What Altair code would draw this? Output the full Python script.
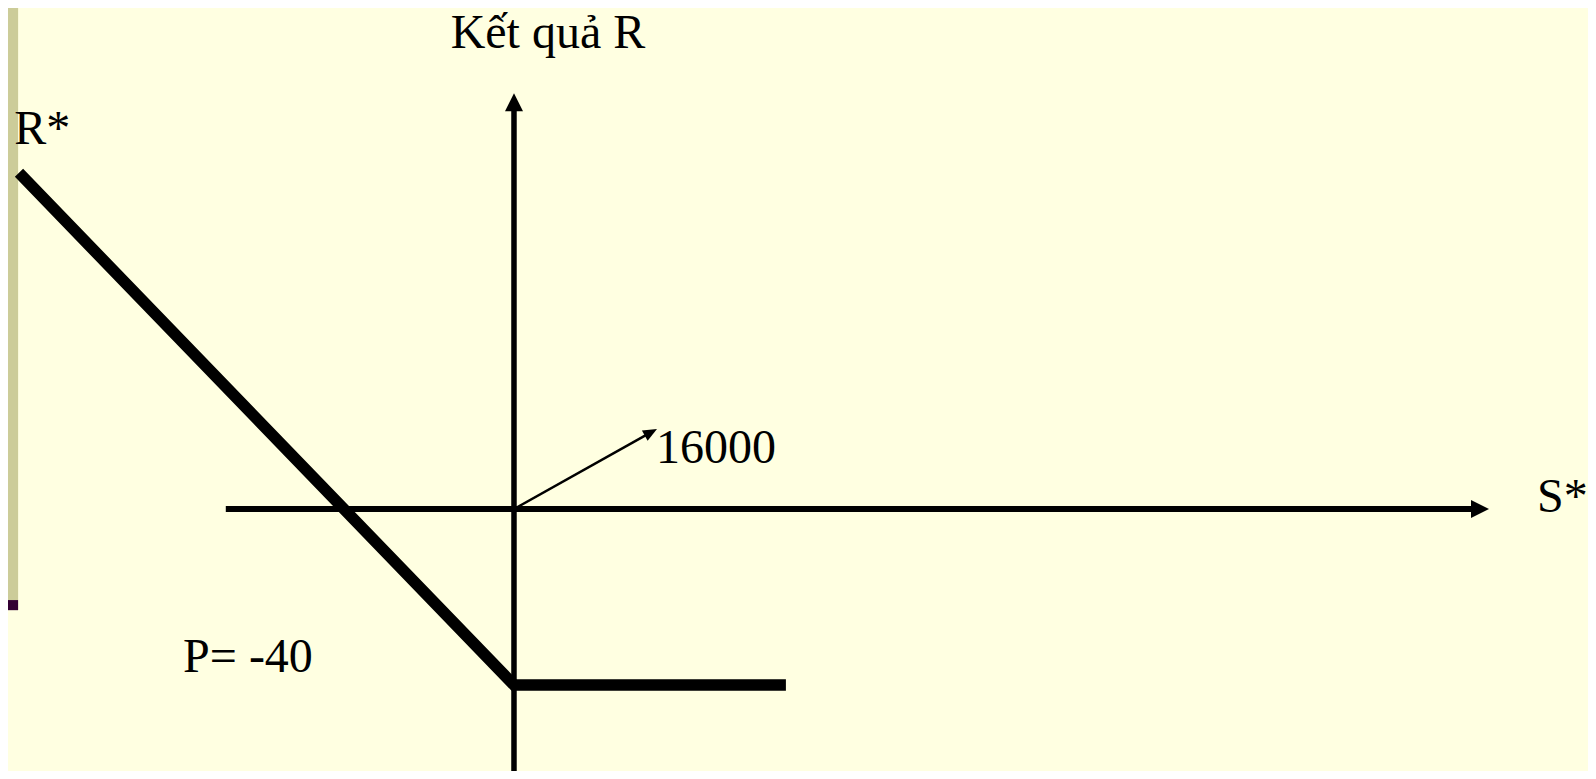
import math
import altair as alt
import pandas as pd

# ---- data (diagram units: origin at the axes crossing, P = -40 at the strike) ----
payoff_s = [-112.5, 0.0, 61.8]
payoff_r = [76.4, -40.0, -40.0]

s_axis_from = -65.5
s_axis_tip = 221.6
r_axis_from = -59.55
r_axis_tip = 94.5

strike_tip_s = 32.5
strike_tip_r = 18.2

label_text = ["Kết quả R", "R*", "16000", "S*", "P= -40"]
label_s = [-14.4, -113.6, 32.3, 232.5, -75.2]
label_r = [104.8, 82.95, 10.45, -0.7, -37.05]

band_s = [-115.0, -112.7]
band_r_top = 113.86
band_r_split = -20.7
band_r_bottom = -23.0

X_DOMAIN = [-115.0, 244.1]
Y_DOMAIN = [-59.55, 113.86]

BG = "#FFFFE1"
xs = alt.Scale(domain=X_DOMAIN, nice=False, zero=False, padding=0)
ys = alt.Scale(domain=Y_DOMAIN, nice=False, zero=False, padding=0)

def X(f):
    return alt.X(f, type="quantitative", scale=xs, axis=None)

def Y(f):
    return alt.Y(f, type="quantitative", scale=ys, axis=None)

# side band (olive + dark purple)
band_df = pd.DataFrame({
    "x": [band_s[0], band_s[0]], "x2": [band_s[1], band_s[1]],
    "y": [band_r_split, band_r_bottom], "y2": [band_r_top, band_r_split],
    "c": ["olive", "purple"],
})
band = alt.Chart(band_df).mark_rect().encode(
    x=X("x"), x2="x2", y=Y("y"), y2="y2",
    color=alt.Color("c:N", scale=alt.Scale(domain=["olive", "purple"],
                                            range=["#CCCC99", "#330033"]), legend=None),
)

# axes lines
h_axis_df = pd.DataFrame({"x": [s_axis_from], "x2": [s_axis_tip * 0.982], "y": [0.0]})
h_axis = alt.Chart(h_axis_df).mark_rule(strokeWidth=6, color="black", strokeCap="butt").encode(
    x=X("x"), x2="x2", y=Y("y"))
v_axis_df = pd.DataFrame({"y": [r_axis_from], "y2": [r_axis_tip * 0.965], "x": [0.0]})
v_axis = alt.Chart(v_axis_df).mark_rule(strokeWidth=5.5, color="black", strokeCap="butt").encode(
    y=Y("y"), y2="y2", x=X("x"))

HEAD = "M0,0 L-0.5,1 L0.5,1 Z"
h_head = alt.Chart(pd.DataFrame({"x": [s_axis_tip], "y": [0.0]})).mark_point(
    shape=HEAD, size=1296, filled=True, color="black", opacity=1, strokeWidth=0, angle=90
).encode(x=X("x"), y=Y("y"))
v_head = alt.Chart(pd.DataFrame({"x": [0.0], "y": [r_axis_tip]})).mark_point(
    shape=HEAD, size=1296, filled=True, color="black", opacity=1, strokeWidth=0, angle=0
).encode(x=X("x"), y=Y("y"))

# thin arrow pointing to 16000
ang = 90 - math.degrees(math.atan2(strike_tip_r, strike_tip_s))
thin_df = pd.DataFrame({"x": [0.0], "y": [0.0], "x2": [strike_tip_s * 0.96], "y2": [strike_tip_r * 0.96]})
thin = alt.Chart(thin_df).mark_rule(strokeWidth=2.5, color="black").encode(
    x=X("x"), y=Y("y"), x2="x2", y2="y2")
thin_head = alt.Chart(pd.DataFrame({"x": [strike_tip_s], "y": [strike_tip_r]})).mark_point(
    shape="M0,0 L-0.42,1 L0.42,1 Z", size=784, filled=True, color="black", opacity=1,
    strokeWidth=0, angle=ang
).encode(x=X("x"), y=Y("y"))

# payoff line
pay_df = pd.DataFrame({"s": payoff_s, "r": payoff_r, "o": list(range(len(payoff_s)))})
payoff = alt.Chart(pay_df).mark_line(
    strokeWidth=11.5, color="black", strokeCap="butt", strokeJoin="miter"
).encode(x=X("s"), y=Y("r"), order="o:Q")

# labels
lab_df = pd.DataFrame({"t": label_text, "x": label_s, "y": label_r})
labels = alt.Chart(lab_df).mark_text(
    font="Liberation Serif", fontSize=48, align="left", baseline="alphabetic", color="black"
).encode(x=X("x"), y=Y("y"), text="t:N")

chart = alt.layer(band, h_axis, v_axis, thin, payoff, h_head, v_head, thin_head, labels).properties(
    width=1580, height=763, padding=0, background=BG,
    autosize=alt.AutoSizeParams(type="none"),
).configure_view(stroke=None)

chart.save("out.html", embed_options={"renderer": "svg", "actions": False})
